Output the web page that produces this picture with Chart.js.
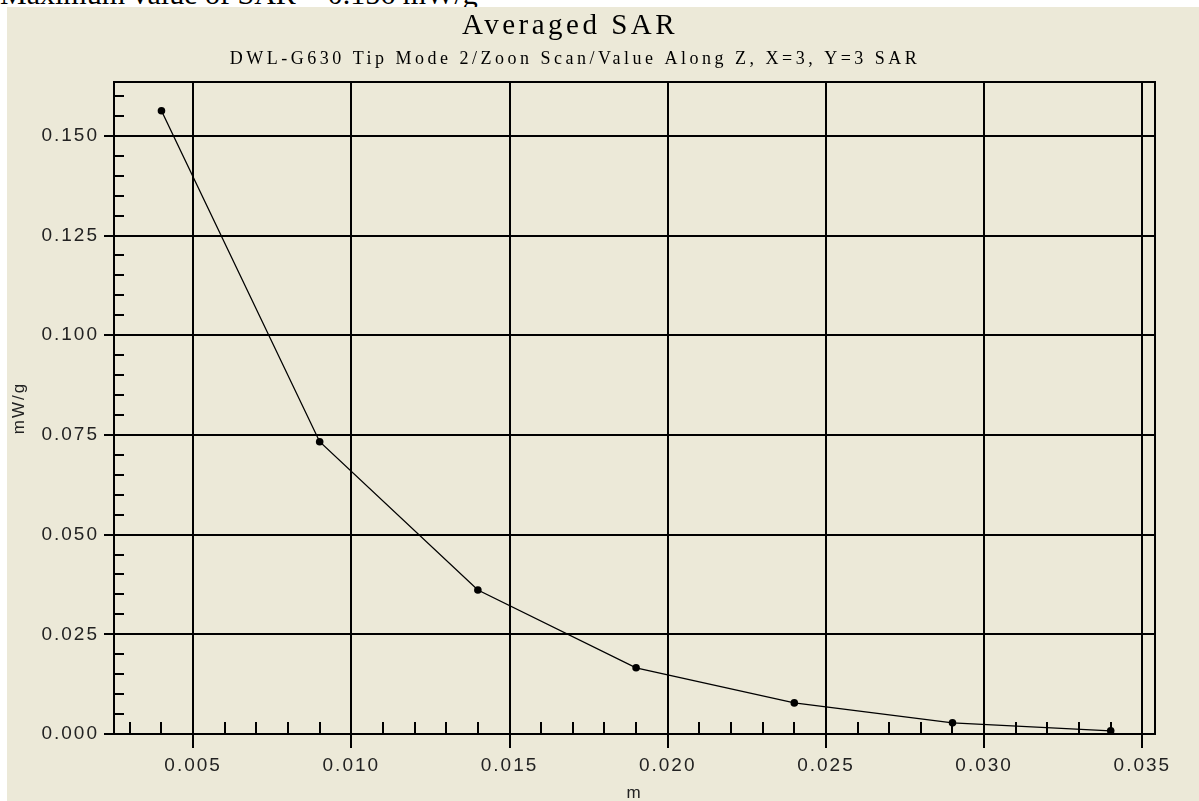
<!DOCTYPE html>
<html>
<head>
<meta charset="utf-8">
<script src="https://cdn.jsdelivr.net/npm/chart.js@4.4.1/dist/chart.umd.min.js"></script>
<style>
  html, body { margin: 0; padding: 0; background: #fff; overflow: hidden; }
  #caption {
    position: absolute; left: 0; top: -21px; white-space: nowrap;
    font: 30px/30px "Liberation Serif", "Times New Roman", serif; color: #000;
  }
  #wrap { position: absolute; left: 7px; top: 7px; width: 1192px; height: 794px; background: #ece9d8; z-index: 1; }
</style>
</head>
<body>
<div id="caption">Maximum value of SAR = 0.156 mW/g</div>
<div id="wrap"><canvas id="sarChart" width="1192" height="794"></canvas></div>
<script>
// valeurs
const titleText = 'Averaged SAR';
const subtitleText = 'DWL-G630 Tip Mode 2/Zoon Scan/Value Along Z, X=3, Y=3 SAR';
const depths = [0.004, 0.009, 0.014, 0.019, 0.024, 0.029, 0.034];
const sarValues = [0.1563, 0.0733, 0.0361, 0.0166, 0.0078, 0.0028, 0.0008];
const xTicks = [0.005, 0.010, 0.015, 0.020, 0.025, 0.030, 0.035];
const yTicks = [0.000, 0.025, 0.050, 0.075, 0.100, 0.125, 0.150];

const points = depths.map((d, i) => ({ x: d, y: sarValues[i] }));

// petits traits intérieurs + cadre + titres
const decorations = {
    id: 'decorations',
    beforeDraw(chart) {
        chart.ctx.letterSpacing = '2px';
    },
    beforeDatasetsDraw(chart) {
        const { ctx, chartArea: a, scales: { x, y } } = chart;
        ctx.save();
        ctx.strokeStyle = '#000';
        ctx.lineWidth = 2;
        ctx.beginPath();
        for (let k = 1; k * 0.005 < y.max; k++) {
            if (k % 5 === 0) continue;
            const py = Math.round(y.getPixelForValue(k * 0.005));
            ctx.moveTo(a.left, py);
            ctx.lineTo(a.left + 10, py);
        }
        for (let k = 3; k * 0.001 < x.max; k++) {
            if (k % 5 === 0) continue;
            const px = Math.round(x.getPixelForValue(k * 0.001));
            ctx.moveTo(px, a.bottom);
            ctx.lineTo(px, a.bottom - 12);
        }
        ctx.stroke();
        ctx.strokeRect(a.left, a.top, a.right - a.left, a.bottom - a.top);
        ctx.restore();
    },
    afterDraw(chart) {
        const ctx = chart.ctx;
        ctx.save();
        ctx.fillStyle = '#000';
        ctx.textAlign = 'center';
        ctx.textBaseline = 'alphabetic';
        ctx.font = '29px "Liberation Serif", serif';
        ctx.letterSpacing = '3.5px';
        ctx.fillText(titleText, 563, 27);
        ctx.font = '18px "Liberation Serif", serif';
        ctx.letterSpacing = '3.5px';
        ctx.fillText(subtitleText, 568, 57);
        ctx.restore();
    }
};

const tickFont = { family: '"Liberation Sans", Arial, sans-serif', size: 19 };

const ctx = document.getElementById('sarChart').getContext('2d');
const sarChart = new Chart(ctx, {
    type: 'line',
    data: {
        datasets: [{
            label: 'SAR',
            data: points,
            borderColor: '#000',
            borderWidth: 1.3,
            backgroundColor: '#000',
            pointRadius: 3.8,
            pointBackgroundColor: '#000',
            pointBorderWidth: 0,
            tension: 0,
            fill: false
        }]
    },
    options: {
        responsive: false,
        animation: false,
        devicePixelRatio: 1,
        layout: { padding: { left: 0, top: 75, right: 44, bottom: 0 } },
        plugins: {
            legend: { display: false },
            title: { display: false },
            tooltip: { enabled: false }
        },
        scales: {
            x: {
                type: 'linear',
                min: 0.0025,
                max: 0.0354,
                afterBuildTicks: s => { s.ticks = xTicks.map(v => ({ value: v })); },
                afterFit: s => { s.height = 67; },
                ticks: {
                    callback: v => v.toFixed(3),
                    font: tickFont, color: '#222', padding: 6,
                    maxRotation: 0, autoSkip: false
                },
                grid: { color: '#000', lineWidth: 2, tickLength: 14, drawOnChartArea: true },
                border: { color: '#000', width: 2 },
                title: {
                    display: true, text: 'm', color: '#222',
                    font: { family: '"Liberation Sans", Arial, sans-serif', size: 17, lineHeight: 0.9 },
                    padding: 0
                }
            },
            y: {
                min: 0,
                max: 0.1635,
                afterBuildTicks: s => { s.ticks = yTicks.map(v => ({ value: v })); },
                afterFit: s => { s.width = 107; },
                ticks: {
                    callback: v => v.toFixed(3),
                    font: tickFont, color: '#222', padding: 5, autoSkip: false
                },
                grid: { color: '#000', lineWidth: 2, tickLength: 10, drawOnChartArea: true },
                border: { color: '#000', width: 2 },
                title: {
                    display: true, text: 'mW/g', color: '#222',
                    font: { family: '"Liberation Sans", Arial, sans-serif', size: 17 },
                    padding: { top: 2, bottom: 0 }
                }
            }
        }
    },
    plugins: [decorations]
});
</script>
</body>
</html>
